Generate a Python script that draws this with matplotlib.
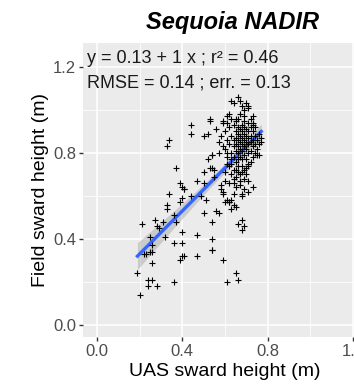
import numpy as np
import matplotlib
matplotlib.use("Agg")
import matplotlib.pyplot as plt

# UAS vs field sward height (m)
uas = [
    0.19, 0.20, 0.24, 0.26, 0.24, 0.28, 0.36, 0.39, 0.41, 0.47, 0.54, 0.59, 0.61, 0.65, 0.66, 0.26, 0.26, 0.23,
    0.34, 0.33, 0.33, 0.39, 0.41, 0.44, 0.51, 0.50, 0.56, 0.21, 0.27, 0.28, 0.29, 0.31, 0.36, 0.37, 0.40, 0.40,
    0.36, 0.32, 0.47, 0.54, 0.54, 0.25, 0.26, 0.25, 0.22, 0.40,
    0.44, 0.44, 0.53, 0.50, 0.52, 0.56, 0.59, 0.57, 0.34, 0.33, 0.37, 0.54, 0.52, 0.53, 0.39, 0.40, 0.41, 0.47,
    0.50, 0.55, 0.40, 0.49, 0.58, 0.60, 0.59,
    0.66, 0.67, 0.63, 0.68, 0.71, 0.69, 0.62, 0.59, 0.65, 0.65, 0.69, 0.73, 0.71, 0.73, 0.64, 0.70, 0.71, 0.53,
    0.61, 0.66, 0.72, 0.77, 0.73,
    0.54, 0.54, 0.55, 0.50, 0.73, 0.71, 0.68, 0.68, 0.64, 0.63, 0.62, 0.61, 0.59, 0.58, 0.71, 0.69, 0.71, 0.76,
    0.65, 0.64, 0.67, 0.65, 0.68, 0.64, 0.63, 0.61, 0.61, 0.59,
    0.57, 0.60, 0.62, 0.63, 0.64, 0.65, 0.68, 0.66, 0.69, 0.68, 0.54,
    0.60, 0.61, 0.62, 0.62, 0.63, 0.63, 0.64, 0.64, 0.64, 0.64, 0.65, 0.65, 0.65, 0.65, 0.65, 0.66, 0.66, 0.66,
    0.66, 0.66, 0.66, 0.67, 0.67, 0.67, 0.67, 0.67, 0.67, 0.68, 0.68, 0.68, 0.68, 0.68, 0.68, 0.69, 0.69, 0.69,
    0.69, 0.69, 0.69, 0.70, 0.70, 0.70, 0.70, 0.70, 0.70, 0.71, 0.71, 0.71, 0.71, 0.72, 0.72, 0.72, 0.72, 0.72,
    0.73, 0.73, 0.73, 0.73, 0.74, 0.74, 0.74, 0.75, 0.75, 0.76, 0.62, 0.63, 0.64, 0.66, 0.68, 0.70, 0.71, 0.62,
    0.60, 0.61, 0.63, 0.65, 0.67, 0.69, 0.58, 0.57, 0.60, 0.61, 0.63, 0.67, 0.69, 0.74, 0.75, 0.76, 0.77, 0.66,
]
field = [
    0.24, 0.14, 0.21, 0.21, 0.18, 0.18, 0.20, 0.30, 0.32, 0.32, 0.35, 0.30, 0.20, 0.24, 0.21, 0.29, 0.34, 0.33,
    0.61, 0.56, 0.54, 0.57, 0.63, 0.60, 0.58, 0.52, 0.53, 0.47, 0.49, 0.46, 0.45, 0.48, 0.51, 0.48, 0.43, 0.38,
    0.38, 0.41, 0.42, 0.40, 0.48, 0.41, 0.37, 0.34, 0.33, 0.32,
    0.93, 0.89, 0.96, 0.88, 0.89, 0.91, 0.94, 0.85, 0.86, 0.83, 0.73, 0.79, 0.77, 0.73, 0.66, 0.64, 0.63, 0.67,
    0.66, 0.69, 0.59, 0.60, 0.65, 0.67, 0.62,
    1.06, 1.04, 1.04, 1.02, 1.02, 1.00, 0.98, 0.95, 0.96, 0.95, 0.95, 0.97, 0.94, 0.94, 1.03, 1.03, 1.01, 0.95,
    0.97, 0.96, 0.96, 0.85, 0.93,
    0.79, 0.73, 0.72, 0.71, 0.64, 0.62, 0.61, 0.60, 0.61, 0.58, 0.57, 0.58, 0.61, 0.63, 0.74, 0.72, 0.75, 0.79,
    0.64, 0.66, 0.67, 0.69, 0.71, 0.72, 0.75, 0.78, 0.80, 0.83,
    0.52, 0.57, 0.57, 0.54, 0.56, 0.55, 0.49, 0.47, 0.46, 0.44, 0.35,
    0.90, 0.86, 0.92, 0.84, 0.88, 0.80, 0.93, 0.86, 0.83, 0.78, 0.90, 0.87, 0.84, 0.81, 0.76, 0.92, 0.89, 0.86,
    0.83, 0.80, 0.74, 0.91, 0.88, 0.85, 0.82, 0.78, 0.70, 0.93, 0.90, 0.87, 0.84, 0.81, 0.77, 0.92, 0.89, 0.86,
    0.83, 0.79, 0.68, 0.91, 0.88, 0.85, 0.82, 0.77, 0.73, 0.90, 0.87, 0.84, 0.80, 0.92, 0.88, 0.85, 0.81, 0.76,
    0.90, 0.86, 0.83, 0.78, 0.88, 0.84, 0.80, 0.86, 0.82, 0.89, 0.74, 0.70, 0.68, 0.71, 0.74, 0.70, 0.67, 0.66,
    0.71, 0.75, 0.77, 0.72, 0.65, 0.63, 0.88, 0.80, 0.82, 0.94, 0.96, 0.98, 0.97, 0.92, 0.79, 0.84, 0.87, 0.77,
]

intercept = 0.13
slope = 1.0
stats_line1 = "y = 0.13 + 1 x ; r² = 0.46"
stats_line2 = "RMSE = 0.14 ; err. = 0.13"
title = "Sequoia NADIR"
ticks = [0.0, 0.4, 0.8, 1.2]
minor_ticks = [0.2, 0.6, 1.0]

plt.rcParams['font.family'] = ['Liberation Sans', 'DejaVu Sans']

x = np.array(uas)
y = np.array(field)

fig = plt.figure(figsize=(3.54, 3.86), dpi=100)
ax = fig.add_axes([0.2345, 0.127, 0.802, 0.762])
ax.set_facecolor('#EBEBEB')
for s in ax.spines.values():
    s.set_visible(False)

ax.set_xlim(-0.065, 1.265)
ax.set_ylim(-0.056, 1.312)
ax.set_xticks(ticks)
ax.set_yticks(ticks)
ax.set_xticklabels([f"{t:.1f}" for t in ticks])
ax.set_yticklabels([f"{t:.1f}" for t in ticks])
ax.set_xticks(minor_ticks, minor=True)
ax.set_yticks(minor_ticks, minor=True)
ax.grid(True, which='major', color='white', linewidth=1.1)
ax.grid(True, which='minor', color='white', linewidth=0.55)
ax.set_axisbelow(True)
ax.tick_params(which='major', length=3, width=1, color='#333333', labelcolor='#4D4D4D',
               labelsize=12, pad=2)
ax.tick_params(which='minor', length=0)

# regression line + 95% band
xs = np.linspace(x.min(), x.max(), 80)
ys = intercept + slope * xs
n = len(x)
resid = y - (intercept + slope * x)
s_err = np.sqrt(np.sum(resid ** 2) / (n - 2))
se = s_err * np.sqrt(1 / n + (xs - x.mean()) ** 2 / np.sum((x - x.mean()) ** 2))
ax.fill_between(xs, ys - 1.97 * se, ys + 1.97 * se, color='#999999', alpha=0.4, linewidth=0, zorder=2)
ax.plot(xs, ys, color='#3366FF', linewidth=2.4, zorder=3)

ax.scatter(x, y, marker='+', color='black', s=22, linewidths=0.8, zorder=4)

ax.text(-0.047, 1.24, stats_line1, fontsize=13, va='center', ha='left', color='#1a1a1a')
ax.text(-0.047, 1.126, stats_line2, fontsize=13, va='center', ha='left', color='#1a1a1a')

ax.set_xlabel("UAS sward height (m)", fontsize=14, color='black', labelpad=3)
ax.set_ylabel("Field sward height (m)", fontsize=14, color='black', labelpad=3)

fig.text(0.658, 0.943, title, fontsize=17, fontweight='bold', fontstyle='italic',
         ha='center', va='center')

fig.savefig("out.png", dpi=100)
